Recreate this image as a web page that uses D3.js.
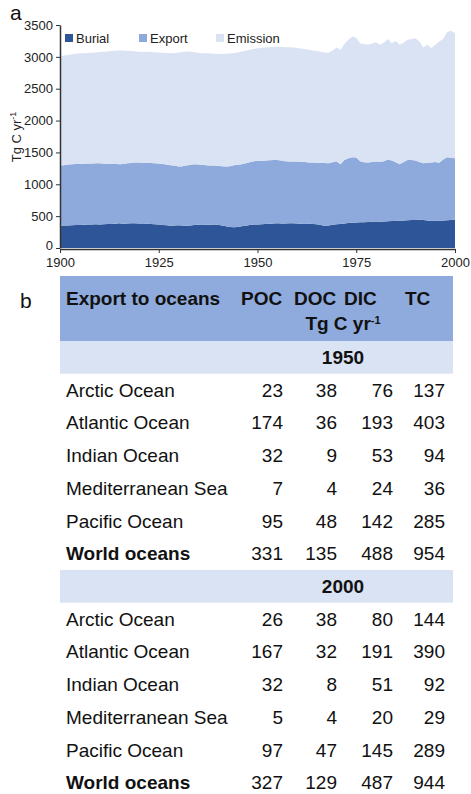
<!DOCTYPE html>
<html>
<head>
<meta charset="utf-8">
<script src="https://cdn.jsdelivr.net/npm/d3@7"></script>
<style>
  body { margin: 0; background: #fff; }
  svg { font-family: "Liberation Sans", Arial, sans-serif; }
</style>
</head>
<body>
<svg width="471" height="794"></svg>
<script>
// panel a: yearly fluxes, Tg C / yr
const years = d3.range(1900, 2001)
const burial = [
  350, 352, 355, 358, 360, 362, 365, 368, 370, 372,
  370, 372, 375, 378, 380, 388, 380, 385, 390, 387,
  385, 383, 380, 378, 372, 368, 362, 358, 351, 355,
  358, 353, 351, 355, 360, 365, 367, 364, 366, 368,
  365, 355, 340, 330, 325, 330, 340, 351, 360, 368,
  367, 372, 375, 380, 385, 388, 383, 386, 388, 388,
  385, 382, 384, 380, 377, 372, 360, 351, 355, 365,
  372, 377, 385, 392, 398, 400, 403, 406, 410, 412,
  414, 412, 416, 420, 424, 425, 428, 432, 435, 438,
  440, 442, 440, 432, 424, 426, 424, 430, 436, 440,
  442]
const exportC = [
  944, 948, 955, 957, 960, 956, 957, 957, 958, 958,
  961, 953, 945, 940, 942, 928, 940, 945, 946, 953,
  956, 955, 956, 956, 959, 957, 956, 952, 949, 939,
  922, 932, 944, 950, 956, 947, 938, 936, 930, 926,
  925, 930, 938, 955, 975, 975, 975, 979, 985, 992,
  1001, 998, 997, 998, 995, 995, 992, 976, 969, 970,
  972, 970, 964, 961, 963, 966, 976, 982, 976, 980,
  990, 939, 995, 1018, 1028, 1020, 957, 939, 931, 938,
  943, 943, 944, 970, 951, 920, 888, 918, 948, 942,
  933, 908, 891, 906, 917, 924, 914, 960, 990, 975,
  968]
const emission = [
  1716, 1720, 1720, 1725, 1730, 1737, 1736, 1735, 1737, 1740,
  1744, 1755, 1765, 1772, 1773, 1784, 1778, 1765, 1754, 1745,
  1739, 1740, 1744, 1744, 1743, 1745, 1747, 1750, 1758, 1768,
  1790, 1793, 1788, 1775, 1756, 1753, 1753, 1755, 1756, 1756,
  1758, 1761, 1769, 1767, 1760, 1765, 1770, 1764, 1765, 1765,
  1769, 1770, 1773, 1772, 1775, 1775, 1780, 1788, 1793, 1787,
  1783, 1778, 1772, 1769, 1760, 1752, 1744, 1737, 1732, 1755,
  1784, 1794, 1820, 1857, 1894, 1880, 1850, 1855, 1849, 1860,
  1873, 1835, 1860, 1890, 1840, 1905, 1874, 1870, 1884, 1900,
  1920, 1890, 1815, 1852, 1796, 1840, 1902, 1890, 1964, 1995,
  1960]
const seriesNames = ["Burial", "Export", "Emission"]
const seriesColors = ["#2e5597", "#8eaadc", "#dae3f3"]
const xTicks = [1900, 1925, 1950, 1975, 2000]
const yTicks = [0, 500, 1000, 1500, 2000, 2500, 3000, 3500]

// panel b: export to oceans
const tableCols = ["POC", "DOC", "DIC", "TC"]
const oceans = ["Arctic Ocean", "Atlantic Ocean", "Indian Ocean", "Mediterranean Sea", "Pacific Ocean", "World oceans"]
const vals1950 = [[23, 38, 76, 137], [174, 36, 193, 403], [32, 9, 53, 94], [7, 4, 24, 36], [95, 48, 142, 285], [331, 135, 488, 954]]
const vals2000 = [[26, 38, 80, 144], [167, 32, 191, 390], [32, 8, 51, 92], [5, 4, 20, 29], [97, 47, 145, 289], [327, 129, 487, 944]]

let svg = d3.select("svg")

// ---------- panel a ----------
let rows = years.map((y, i) => ({year: y, Burial: burial[i], Export: exportC[i], Emission: emission[i]}))
let stacked = d3.stack().keys(seriesNames)(rows)

let x = d3.scaleLinear().domain([1900, 2000]).range([60, 455])
let y = d3.scaleLinear().domain([0, 3500]).range([248, 25])

let area = d3.area()
  .x(d => x(d.data.year))
  .y0(d => y(d[0]))
  .y1(d => y(d[1]))

svg.append("g")
  .selectAll("path")
  .data(stacked)
  .join("path")
  .attr("fill", (d, i) => seriesColors[i])
  .attr("d", area)

let yAxis = svg.append("g")
  .attr("transform", "translate(60,0)")
  .call(d3.axisLeft(y).tickValues(yTicks).tickFormat(d3.format("d")).tickSize(4).tickSizeOuter(0).tickPadding(3))
yAxis.select(".domain").attr("stroke", "#333").attr("stroke-width", 1.5)
yAxis.selectAll(".tick line").attr("stroke", "#333")
yAxis.selectAll("text").attr("font-size", "13px").attr("fill", "#222").attr("font-family", "Liberation Sans, Arial, sans-serif")
// the 0 label sits a little higher, as in the original
yAxis.selectAll(".tick text").filter(d => d == 0).attr("dy", "0.1em")

let xAxis = svg.append("g")
  .attr("transform", "translate(0,249)")
  .call(d3.axisBottom(x).tickValues(xTicks).tickFormat(d3.format("d")).tickSize(4).tickSizeOuter(0).tickPadding(5))
xAxis.select(".domain").attr("stroke", "#333").attr("stroke-width", 1.5)
xAxis.selectAll(".tick line").attr("stroke", "#333")
xAxis.selectAll("text").attr("font-size", "13px").attr("fill", "#222").attr("font-family", "Liberation Sans, Arial, sans-serif")

// y title
let yt = svg.append("text")
  .attr("transform", "translate(21,137) rotate(-90)")
  .attr("text-anchor", "middle")
  .attr("font-size", "13px")
  .attr("fill", "#222")
yt.append("tspan").text("Tg C yr")
yt.append("tspan").attr("dy", -5).attr("font-size", "9px").text("-1")

// legend
let legX = [65, 139, 216]
let leg = svg.append("g")
seriesNames.forEach((name, i) => {
  leg.append("rect")
    .attr("x", legX[i]).attr("y", 34)
    .attr("width", 8).attr("height", 8)
    .attr("fill", seriesColors[i])
  leg.append("text")
    .attr("x", legX[i] + 11).attr("y", 43)
    .attr("font-size", "13px")
    .attr("fill", "#222")
    .text(name)
})

svg.append("text").attr("x", 10).attr("y", 20).attr("font-size", "21px").attr("fill", "#111").text("a")

// ---------- panel b ----------
svg.append("text").attr("x", 20).attr("y", 308).attr("font-size", "21px").attr("fill", "#111").text("b")

const tLeft = 60, tRight = 453, rowH = 32.7
const colRight = [283, 337, 393, 445]
const headX = [241, 294, 344, 405]

let tbl = svg.append("g").attr("font-size", "19px").attr("fill", "#111")

tbl.append("rect").attr("x", tLeft).attr("y", 276).attr("width", tRight - tLeft).attr("height", 65).attr("fill", "#8faadc")
tbl.append("text").attr("x", 66).attr("y", 305).attr("font-weight", "bold").text("Export to oceans")
tableCols.forEach((c, i) => {
  tbl.append("text").attr("x", headX[i]).attr("y", 305).attr("font-weight", "bold").text(c)
})
let unit = tbl.append("text").attr("x", 343).attr("y", 330).attr("text-anchor", "middle").attr("font-weight", "bold")
unit.append("tspan").text("Tg C yr")
unit.append("tspan").attr("dy", -6).attr("font-size", "11px").text("-1")

function block(yearLabel, vals, top) {
  tbl.append("rect").attr("x", tLeft).attr("y", top).attr("width", tRight - tLeft).attr("height", rowH).attr("fill", "#dae3f3")
  tbl.append("text").attr("x", 343).attr("y", top + 23).attr("text-anchor", "middle").attr("font-weight", "bold").text(yearLabel)
  oceans.forEach((o, r) => {
    let yy = top + rowH * (r + 1) + 23
    let bold = r == oceans.length - 1 ? "bold" : "normal"
    tbl.append("text").attr("x", 66).attr("y", yy).attr("font-weight", bold).text(o)
    vals[r].forEach((v, c) => {
      tbl.append("text").attr("x", colRight[c]).attr("y", yy).attr("text-anchor", "end").text(v)
    })
  })
}

block("1950", vals1950, 341)
block("2000", vals2000, 570)
</script>
</body>
</html>
